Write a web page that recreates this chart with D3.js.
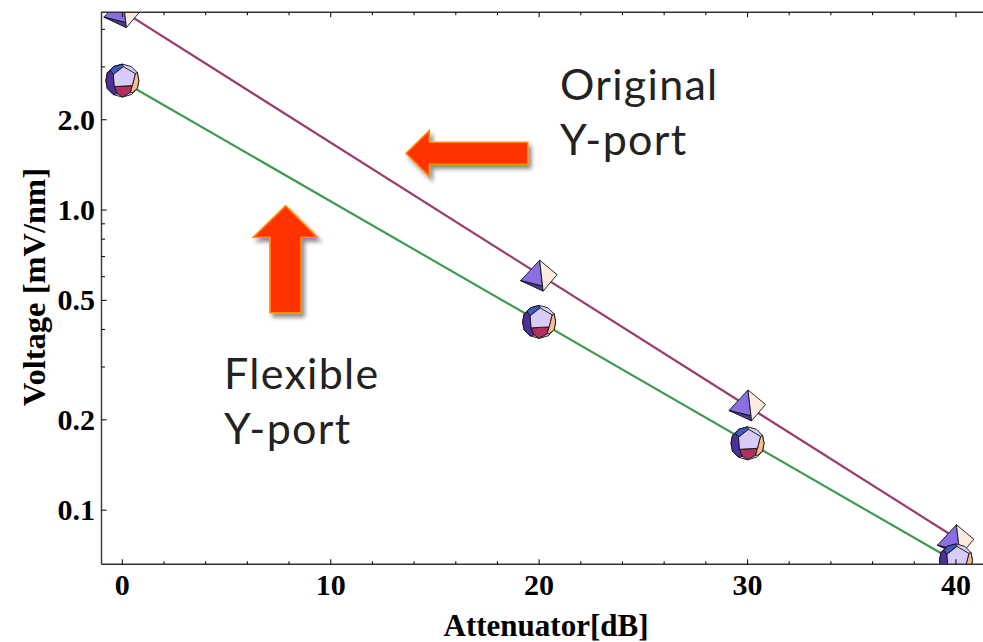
<!DOCTYPE html>
<html>
<head>
<meta charset="utf-8">
<script src="https://cdn.jsdelivr.net/npm/d3@7"></script>
<style>
  html, body { margin: 0; padding: 0; background: #fff; }
  svg { display: block; }
  .tick-label { font-family: "Liberation Serif", "Times New Roman", serif; font-weight: bold; font-size: 30px; fill: #000; }
  .axis-title { font-family: "Liberation Serif", "Times New Roman", serif; font-weight: bold; font-size: 31px; fill: #000; }
  .note { font-family: "Lato", "Noto Sans", sans-serif; font-size: 43px; letter-spacing: 1.3px; fill: #222; }
</style>
</head>
<body>
<svg id="chart" width="983" height="642"></svg>
<script>
// Measured voltage per attenuator setting, two Y-port designs
const attenuation   = [0, 20, 30, 40];
const originalYport = [4.6, 0.609, 0.225, 0.080];
const flexibleYport = [2.70, 0.424, 0.167, 0.068];

// Axis ticks
const xTickLabels  = [0, 10, 20, 30, 40];
const xMinorTicks  = [2, 4, 6, 8, 12, 14, 16, 18, 22, 24, 26, 28, 32, 34, 36, 38];
const yTickLabels  = [0.1, 0.2, 0.5, 1.0, 2.0];
const yMinorTicks  = [0.3, 0.4, 0.6, 0.7, 0.8, 0.9, 3, 4];

const xLimits = [-1, 41.3];
const yLimits = [0.066, 4.56];

const W = 983, H = 642;
const plot = { left: 101.5, right: 983, top: 12.3, bottom: 564.3 };

const svg = d3.select("#chart");

const x = d3.scaleLinear().domain(xLimits).range([plot.left, plot.right]);
const y = d3.scaleLog().domain(yLimits).range([plot.bottom, plot.top]);

// Drop shadow for the callout arrows
const defs = svg.append("defs");
const shadow = defs.append("filter").attr("id", "shadow")
  .attr("x", "-20%").attr("y", "-20%").attr("width", "150%").attr("height", "150%");
shadow.append("feDropShadow").attr("dx", 3).attr("dy", 4).attr("stdDeviation", 2)
  .attr("flood-color", "#000").attr("flood-opacity", 0.45);

defs.append("clipPath").attr("id", "plotClip").append("rect")
  .attr("x", plot.left).attr("y", plot.top)
  .attr("width", plot.right - plot.left).attr("height", plot.bottom - plot.top);

// Least-squares exponential fit (straight line on the log axis)
function logFit(xs, ys) {
  const ly = ys.map(v => Math.log10(v));
  const mx = d3.mean(xs), my = d3.mean(ly);
  let sxy = 0, sxx = 0;
  xs.forEach((xv, i) => { sxy += (xv - mx) * (ly[i] - my); sxx += (xv - mx) ** 2; });
  const slope = sxy / sxx, icpt = my - slope * mx;
  return xv => Math.pow(10, icpt + slope * xv);
}

const series = [
  { name: "Original Y-port", values: originalYport, color: "#9a3d6e", marker: "pyramid" },
  { name: "Flexible Y-port", values: flexibleYport, color: "#3f9a52", marker: "dodeca" }
];

const plotG = svg.append("g").attr("clip-path", "url(#plotClip)");

// Fit lines
const line = d3.line().x(d => x(d[0])).y(d => y(d[1]));
series.forEach(s => {
  const f = logFit(attenuation, s.values);
  const xr = d3.extent(attenuation);
  plotG.append("path")
    .datum([[xr[0], f(xr[0])], [xr[1], f(xr[1])]])
    .attr("d", line)
    .attr("fill", "none")
    .attr("stroke", s.color)
    .attr("stroke-width", 2.2);
});

// Polyhedron-style point markers (faces drawn around the point centre)
const markerFaces = {
  pyramid: [
    { fill: "#8a6fe3", pts: [[0.5,-14.5],[-18.5,6],[3.5,11.5]] },
    { fill: "#4c3a8e", pts: [[-18.5,6],[3.5,11.5],[4,16.5]] },
    { fill: "#fdebe2", pts: [[0.5,-14.5],[18,0],[4,16.5],[3.5,11.5]] }
  ],
  dodeca: [
    { fill: "#d9cbf7", pts: [[0,-16.5],[9,-14],[15,-8],[16.5,0],[15,8],[9,14],[0,16.5],[-9,14],[-15,8],[-16.5,0],[-15,-8],[-9,-14]] },
    { fill: "#3f58c4", pts: [[-9,-6],[1,-14],[0,-16.5],[-9,-14],[-12,-10]] },
    { fill: "#4d2f9c", pts: [[-9,-6],[-8,6],[-5,13],[-9,14],[-15,8],[-16.5,0],[-15,-8],[-12,-10]] },
    { fill: "#b2305e", pts: [[-8,6],[10,5],[8,12],[0,16.5],[-5,13]] },
    { fill: "#f6c08e", pts: [[13,-7],[15,-8],[16.5,0],[15,8],[10,12],[8,12],[10,5]] },
    { fill: "#d9cbf7", pts: [[1,-14],[13,-7],[10,5],[-8,6],[-9,-6]] }
  ]
};

series.forEach(s => {
  const g = plotG.append("g");
  const pts = attenuation.map((a, i) => ({ a, v: s.values[i] }));
  const m = g.selectAll("g.pt").data(pts).join("g")
    .attr("class", "pt")
    .attr("transform", d => `translate(${x(d.a)},${y(d.v)})`);
  markerFaces[s.marker].forEach(face => {
    m.append("polygon")
      .attr("points", face.pts.map(p => p.join(",")).join(" "))
      .attr("fill", face.fill)
      .attr("stroke", "#111")
      .attr("stroke-width", 0.9)
      .attr("stroke-linejoin", "round");
  });
});

// Frame
const frameColor = "#333";
svg.append("path")
  .attr("d", `M${plot.left},${plot.bottom}L${plot.left},${plot.top}L${W + 5},${plot.top}M${plot.left},${plot.bottom}L${W + 5},${plot.bottom}`)
  .attr("fill", "none").attr("stroke", frameColor).attr("stroke-width", 1.4);

// X ticks (bottom and top, pointing inward)
const ticks = svg.append("g").attr("stroke", "#111").attr("stroke-width", 1.1);
xTickLabels.forEach(t => {
  ticks.append("line").attr("x1", x(t)).attr("x2", x(t)).attr("y1", plot.bottom).attr("y2", plot.bottom - 5);
  ticks.append("line").attr("x1", x(t)).attr("x2", x(t)).attr("y1", plot.top).attr("y2", plot.top + 5);
});
xMinorTicks.forEach(t => {
  ticks.append("line").attr("x1", x(t)).attr("x2", x(t)).attr("y1", plot.bottom).attr("y2", plot.bottom - 3);
  ticks.append("line").attr("x1", x(t)).attr("x2", x(t)).attr("y1", plot.top).attr("y2", plot.top + 3);
});
yTickLabels.forEach(t => {
  ticks.append("line").attr("x1", plot.left).attr("x2", plot.left + 5).attr("y1", y(t)).attr("y2", y(t));
});
yMinorTicks.forEach(t => {
  ticks.append("line").attr("x1", plot.left).attr("x2", plot.left + 3.5).attr("y1", y(t)).attr("y2", y(t));
});

// Tick labels
svg.append("g").selectAll("text").data(xTickLabels).join("text")
  .attr("class", "tick-label")
  .attr("x", d => x(d)).attr("y", 595)
  .attr("text-anchor", "middle")
  .text(d => d);

svg.append("g").selectAll("text").data(yTickLabels).join("text")
  .attr("class", "tick-label")
  .attr("x", 95).attr("y", d => y(d) + 10)
  .attr("text-anchor", "end")
  .text(d => d3.format(".1f")(d));

// Axis titles
svg.append("text").attr("class", "axis-title")
  .attr("x", 546).attr("y", 636).attr("text-anchor", "middle")
  .text("Attenuator[dB]");

svg.append("text").attr("class", "axis-title")
  .style("font-size", "32.5px")
  .attr("transform", "translate(45,287) rotate(-90)")
  .attr("text-anchor", "middle")
  .text("Voltage [mV/nm]");

// Callout arrows
const arrowStyle = sel => sel.attr("fill", "#ff3300").attr("stroke", "#ff8a00")
  .attr("stroke-width", 1.6).attr("stroke-linejoin", "miter").attr("filter", "url(#shadow)");

svg.append("polygon")
  .attr("points", [[406,153.3],[429.3,130.7],[429.3,142.3],[527.7,142.3],[527.7,164.3],[429.3,164.3],[429.3,176.5]].map(p => p.join(",")).join(" "))
  .call(arrowStyle);

svg.append("polygon")
  .attr("points", [[285.7,205.7],[317.3,237.3],[301,237.3],[301,312.7],[270,312.7],[270,237.3],[253.3,237.3]].map(p => p.join(",")).join(" "))
  .call(arrowStyle);

// Callout texts
const notes = [
  { lines: ["Original", "Y-port"], x: 560, y: 100 },
  { lines: ["Flexible", "Y-port"], x: 224, y: 389 }
];
notes.forEach(n => {
  const t = svg.append("text").attr("class", "note").attr("x", n.x).attr("y", n.y);
  n.lines.forEach((l, i) => t.append("tspan").attr("x", n.x).attr("dy", i === 0 ? 0 : 55).text(l));
});
</script>
</body>
</html>
